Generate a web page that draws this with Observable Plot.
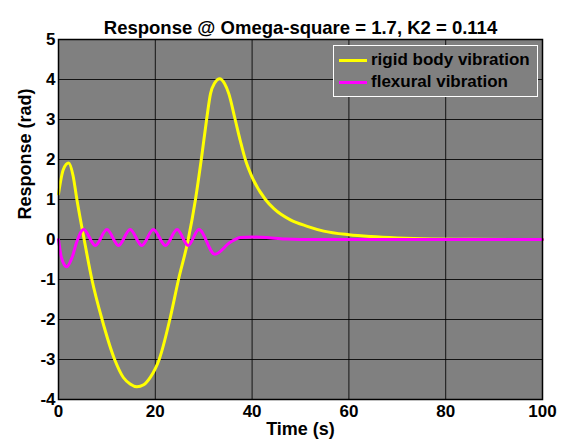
<!DOCTYPE html>
<html>
<head>
<meta charset="utf-8">
<script src="https://cdn.jsdelivr.net/npm/d3@7"></script>
<script src="https://cdn.jsdelivr.net/npm/@observablehq/plot@0.6"></script>
<style>
  body { margin: 0; background: #fff; }
  #wrap { position: relative; width: 566px; height: 443px; font-family: "Liberation Sans", Arial, sans-serif; font-weight: bold; }
  #legend { position: absolute; left: 333px; top: 45px; width: 205px; height: 52px; box-sizing: border-box;
            border: 1px solid #fff; background: #808080; font-size: 17px; color: #000; }
  .row { position: absolute; left: 5px; height: 20px; display: flex; align-items: center; white-space: nowrap; }
  .sw { width: 28px; height: 3px; margin-right: 4px; }
</style>
</head>
<body>
<div id="wrap"></div>
<script>
const titleText = "Response @ Omega-square = 1.7, K2 = 0.114";
const xLabel = "Time (s)";
const yLabel = "Response (rad)";
const seriesNames = ["rigid body vibration", "flexural vibration"];
const seriesColors = ["#ffff00", "#ff00ff"];
const xTicks = [0, 20, 40, 60, 80, 100];
const yTicks = [-4, -3, -2, -1, 0, 1, 2, 3, 4, 5];

// rigid body vibration
const rigidT = [0, 1.0, 2.1, 3.0, 3.8, 5.3, 6.9, 9.0, 11.6, 13.4, 14.8, 16.2, 17.6, 19.0, 20.0, 20.8, 23.0, 24.8, 26.8, 28.3, 29.5, 30.6, 31.4, 32.3, 33.3, 34.3, 35.2, 36.5, 37.6, 38.6, 40.0, 42.75, 44.5, 47.9, 51.4, 54.8, 60.0, 64.5, 70.0, 75.0, 85.0, 100.0];
const rigidV = [1.14, 1.75, 1.91, 1.6, 1.0, 0.0, -1.0, -2.0, -3.0, -3.45, -3.61, -3.68, -3.63, -3.44, -3.23, -3.0, -2.0, -1.0, 0.0, 1.0, 2.0, 3.0, 3.64, 3.92, 4.02, 3.9, 3.64, 3.0, 2.45, 2.0, 1.56, 1.0, 0.77, 0.49, 0.33, 0.21, 0.12, 0.075, 0.04, 0.02, 0.005, 0.0];

// flexural vibration
const flexT = [0, 0.6, 1.7, 2.8, 3.8, 5.2, 7.6, 10.0, 12.4, 14.8, 17.2, 19.6, 22.1, 24.5, 26.8, 29.0, 32.3, 35.5, 37.6, 40.0, 44.0, 47.0, 50.0, 60.0, 80.0, 100.0];
const flexV = [0.0, -0.45, -0.68, -0.45, -0.05, 0.25, -0.15, 0.25, -0.15, 0.25, -0.15, 0.25, -0.15, 0.25, -0.15, 0.25, -0.37, -0.07, 0.05, 0.06, 0.04, 0.01, 0.0, 0.0, 0.0, 0.0];

const rigid = rigidT.map((t, i) => ({t, v: rigidV[i]}));
const flex = flexT.map((t, i) => ({t, v: flexV[i]}));

const font = "'Liberation Sans', Arial, sans-serif";

const chart = Plot.plot({
  width: 566,
  height: 443,
  marginLeft: 58,
  marginRight: 24,
  marginTop: 39,
  marginBottom: 44,
  style: {fontFamily: font, fontWeight: "bold", fontSize: "17px", color: "#000", background: "transparent"},
  x: {domain: [0, 100]},
  y: {domain: [-4, 5]},
  marks: [
    Plot.frame({fill: "#808080", stroke: null}),
    Plot.gridX(xTicks, {stroke: "#000", strokeOpacity: 0.85, strokeWidth: 1}),
    Plot.gridY(yTicks, {stroke: "#000", strokeOpacity: 0.85, strokeWidth: 1}),
    Plot.line(rigid, {x: "t", y: "v", stroke: seriesColors[0], strokeWidth: 3, curve: "monotone-x"}),
    Plot.line(flex, {x: "t", y: "v", stroke: seriesColors[1], strokeWidth: 3, curve: "monotone-x"}),
    Plot.frame({stroke: "#000", strokeWidth: 1.5}),
    Plot.axisX(xTicks, {tickSize: 0, tickPadding: 5, label: null, tickFormat: d => String(d), fontSize: 17}),
    Plot.axisY(yTicks, {tickSize: 0, tickPadding: 3, label: null, tickFormat: d => String(d), fontSize: 17, dy: 0}),
    Plot.text([titleText], {frameAnchor: "top", dy: -19, text: d => d, fontSize: 18.5, fontWeight: "bold"}),
    Plot.text([xLabel], {frameAnchor: "bottom", dy: 35, text: d => d, fontSize: 18, fontWeight: "bold"}),
    Plot.text([yLabel], {frameAnchor: "left", dx: -33, rotate: -90, text: d => d, fontSize: 18, fontWeight: "bold"})
  ]
});

const wrap = document.getElementById("wrap");
wrap.appendChild(chart);

const legend = document.createElement("div");
legend.id = "legend";
seriesNames.forEach((name, i) => {
  const row = document.createElement("div");
  row.className = "row";
  row.style.top = (4 + i * 22) + "px";
  const sw = document.createElement("div");
  sw.className = "sw";
  sw.style.background = seriesColors[i];
  const label = document.createElement("span");
  label.textContent = name;
  row.appendChild(sw);
  row.appendChild(label);
  legend.appendChild(row);
});
wrap.appendChild(legend);
</script>
</body>
</html>
